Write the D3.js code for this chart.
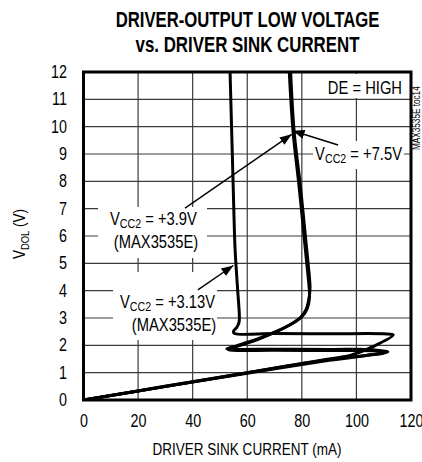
<!DOCTYPE html>
<html><head><meta charset="utf-8">
<script src="https://cdn.jsdelivr.net/npm/d3@7"></script>
<style>body{margin:0;background:#fff}svg{display:block}</style>
</head><body><svg id="c" width="422" height="462"></svg>
<script>
// ---- data ----
const titleLines = ["DRIVER-OUTPUT LOW VOLTAGE", "vs. DRIVER SINK CURRENT"];
const xTicks = [0, 20, 40, 60, 80, 100, 120];
const yTicks = [0, 1, 2, 3, 4, 5, 6, 7, 8, 9, 10, 11, 12];
const xTitle = "DRIVER SINK CURRENT (mA)";
const yTitleMain = "V", yTitleSub = "DOL", yTitleRest = " (V)";
const noteText = "DE = HIGH";
const tocText = "MAX3535E toc14";

// VCC2 = +3.13V (MAX3535E)
const i313 = [0, 30, 60, 90, 98, 106, 113.5, 110, 90, 70, 55.2, 55.0, 56.2, 57.0, 57.1, 56.5, 55.9, 55.5, 54.8, 53.7];
const v313 = [0, 0.5, 1.0, 1.5, 1.64, 1.95, 2.38, 2.42, 2.42, 2.43, 2.44, 2.52, 2.66, 2.85, 3.1, 4.0, 4.9, 5.6, 8.0, 12];
// VCC2 = +3.9V (MAX3535E)
const i39 = [0, 30, 60, 90, 110.5, 106, 90, 70, 52.5, 55, 58.5, 64.5, 70.5, 76.5, 80, 82, 82.8, 82.6, 81.8, 81.0, 79.0, 76.8, 75.4];
const v39 = [0, 0.5, 1.0, 1.48, 1.74, 1.84, 1.85, 1.86, 1.87, 1.95, 2.06, 2.26, 2.5, 2.8, 3.05, 3.35, 3.75, 4.2, 5.0, 5.8, 7.8, 9.8, 12];
// VCC2 = +7.5V
const i75 = [0, 30, 60, 90, 111.5, 108, 90, 70, 53.0, 55, 58, 64, 70, 76, 79.5, 81.5, 82.5, 83.0, 82.3, 81.5, 79.5, 77.2, 75.9];
const v75 = [0, 0.49, 0.98, 1.45, 1.76, 1.80, 1.81, 1.82, 1.84, 1.92, 2.02, 2.22, 2.47, 2.77, 3.02, 3.3, 3.65, 4.1, 5.0, 5.8, 7.8, 9.8, 12];

// annotations
const annLabels = ["+7.5V", "+3.9V", "+3.13V"];
const annSecond = ["", "(MAX3535E)", "(MAX3535E)"];
const annFrom = [[93.3, 9.33], [37.2, 7.02], [41.9, 4.03]];
const annTo = [[76.6, 9.85], [76.3, 9.72], [54.9, 4.92]];

// ---- layout ----
const svg = d3.select("#c");
const m = {l: 83.5, r: 411, t: 72, b: 400};
const x = d3.scaleLinear().domain([0, 120]).range([m.l, m.r]);
const y = d3.scaleLinear().domain([0, 12]).range([m.b, m.t]);
const FONT = "'Liberation Sans', Arial, sans-serif";
const SQUEEZE = 0.82;

svg.append("rect").attr("width", 422).attr("height", 462).attr("fill", "#fff");

// title (bold, squeezed to the reference width)
const titleWidths = [264, 224];
titleLines.forEach((t, k) => {
  const el = svg.append("text").attr("x", 0).attr("y", 0)
    .attr("text-anchor", "middle").attr("font-family", FONT).attr("font-weight", "bold")
    .attr("font-size", 22.5).attr("fill", "#000").text(t);
  const w = el.node().getComputedTextLength();
  el.attr("transform", `translate(247.5,${k === 0 ? 27 : 52}) scale(${titleWidths[k] / w},1)`);
});

// grid
const grid = svg.append("g").attr("stroke", "#3a3a3a").attr("stroke-width", 1.2);
grid.selectAll("line.v").data(xTicks.slice(1, -1)).join("line")
  .attr("x1", d => x(d)).attr("x2", d => x(d)).attr("y1", m.t).attr("y2", m.b);
grid.selectAll("line.h").data(yTicks.slice(1, -1)).join("line")
  .attr("y1", d => y(d)).attr("y2", d => y(d)).attr("x1", m.l).attr("x2", m.r);

// axes (labels only)
const xAxis = svg.append("g").attr("transform", `translate(0,${m.b})`)
  .call(d3.axisBottom(x).tickValues(xTicks).tickSize(0).tickPadding(15).tickFormat(d3.format("d")));
const yAxis = svg.append("g").attr("transform", `translate(${m.l},0)`)
  .call(d3.axisLeft(y).tickValues(yTicks).tickSize(0).tickPadding(16.5).tickFormat(d3.format("d")));
[xAxis, yAxis].forEach(a => {
  a.select(".domain").remove();
  a.selectAll("text").classed("cond", true).attr("font-family", FONT).attr("font-size", 17.5).attr("fill", "#000");
});

// axis titles
svg.append("text").classed("cond", true).attr("x", 247).attr("y", 455).attr("text-anchor", "middle")
  .attr("font-family", FONT).attr("font-size", 16.5).attr("fill", "#000").text(xTitle);
const yt = svg.append("text").classed("cond", true).attr("transform", "translate(25,234) rotate(-90)")
  .attr("text-anchor", "middle").attr("font-family", FONT).attr("font-size", 16.5).attr("fill", "#000");
yt.append("tspan").text(yTitleMain);
yt.append("tspan").attr("font-size", 11.5).attr("dy", 4).text(yTitleSub);
yt.append("tspan").attr("dy", -4).text(yTitleRest);

// label boxes & labels
function addBox(box) {
  svg.append("rect").attr("x", box[0]).attr("y", box[1]).attr("width", box[2] - box[0])
    .attr("height", box[3] - box[1]).attr("fill", "#fff");
}
function addLabel(px, py, main, sub, rest, anchor) {
  const t = svg.append("text").classed("cond", true).attr("x", px).attr("y", py).attr("text-anchor", anchor)
    .attr("font-family", FONT).attr("font-size", 18).attr("fill", "#000");
  t.append("tspan").text(main);
  if (sub) {
    t.append("tspan").attr("font-size", 13).attr("dy", 3).text(sub);
    t.append("tspan").attr("dy", -3).text(rest);
  }
  return t;
}
function addPlain(px, py, txt) {
  svg.append("text").classed("cond", true).attr("x", px).attr("y", py).attr("text-anchor", "middle")
    .attr("font-family", FONT).attr("font-size", 18).attr("fill", "#000").text(txt);
}
addBox([328, 74, 405, 98]);
addLabel(402, 94, noteText, null, null, "end");
addBox([313, 141, 404, 169]);
addLabel(402, 160, "V", "CC2", " = " + annLabels[0], "end");
addBox([98, 207, 207, 258]);
addLabel(110, 225.5, "V", "CC2", " = " + annLabels[1], "start");
addPlain(156, 248.5, annSecond[1]);
addBox([113, 272, 217, 340]);
addLabel(120, 308, "V", "CC2", " = " + annLabels[2], "start");
addPlain(174, 331, annSecond[2]);

// toc
svg.append("text").classed("cond", true).attr("transform", "translate(420,150) rotate(-90)")
  .attr("font-family", FONT).attr("font-size", 10).attr("fill", "#000").text(tocText);

// curves
svg.append("clipPath").attr("id", "clip").append("rect")
  .attr("x", m.l).attr("y", m.t).attr("width", m.r - m.l).attr("height", m.b - m.t);
const line = d3.line().x(d => x(d[0])).y(d => y(d[1])).curve(d3.curveCatmullRom.alpha(0.5));
const curves = svg.append("g").attr("clip-path", "url(#clip)");
[[i313, v313], [i39, v39], [i75, v75]].forEach(([I, V]) => {
  curves.append("path").datum(I.map((d, k) => [d, V[k]])).attr("d", line)
    .attr("fill", "none").attr("stroke", "#000").attr("stroke-width", 3)
    .attr("stroke-linejoin", "round").attr("stroke-linecap", "round");
});

// arrows
const defs = svg.append("defs");
defs.append("marker").attr("id", "ah").attr("markerUnits", "userSpaceOnUse")
  .attr("viewBox", "-12 -5 13 10").attr("refX", 0).attr("refY", 0)
  .attr("markerWidth", 13).attr("markerHeight", 10).attr("orient", "auto")
  .append("path").attr("d", "M0,0 L-12,-4.5 L-12,4.5 Z").attr("fill", "#000");
annFrom.forEach((f, k) => {
  svg.append("line").attr("x1", x(f[0])).attr("y1", y(f[1]))
    .attr("x2", x(annTo[k][0])).attr("y2", y(annTo[k][1]))
    .attr("stroke", "#000").attr("stroke-width", 1.4).attr("marker-end", "url(#ah)");
});

// border
svg.append("rect").attr("x", m.l).attr("y", m.t).attr("width", m.r - m.l).attr("height", m.b - m.t)
  .attr("fill", "none").attr("stroke", "#000").attr("stroke-width", 3);

// condensed look (narrow typeface): horizontal squeeze about each text's anchor
svg.selectAll("text.cond").each(function () {
  const s = d3.select(this);
  const px = +(s.attr("x") || 0);
  const tr = s.attr("transform") || "";
  s.attr("x", px / SQUEEZE).attr("transform", (tr + ` scale(${SQUEEZE},1)`).trim());
});
</script></body></html>
